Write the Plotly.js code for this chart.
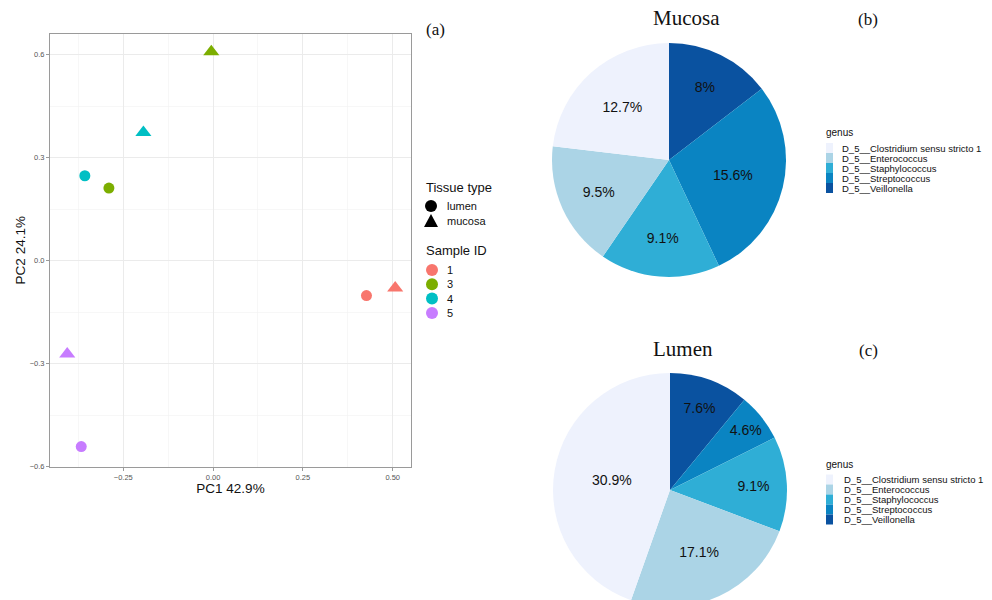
<!DOCTYPE html>
<html>
<head>
<meta charset="utf-8">
<script src="https://cdn.plot.ly/plotly-3.0.1.min.js"></script>
<style>
  html, body { margin: 0; padding: 0; overflow: hidden; background: #fff; }
  #chart { width: 992px; height: 620px; }
</style>
</head>
<body>
<div id="chart"></div>
<script>
// PCA scores per tissue type, one value per sample (order follows sampleIds)
const sampleIds = ['1', '3', '4', '5'];
const sampleColors = ['#F8766D', '#7CAE00', '#00BFC4', '#C77CFF'];
const tissueTypes = ['lumen', 'mucosa'];
const tissueSymbols = ['circle', 'triangle-up'];
const pc1Lumen = [0.427, -0.290, -0.357, -0.367];
const pc2Lumen = [-0.102, 0.211, 0.247, -0.542];
const pc1Mucosa = [0.507, -0.005, -0.194, -0.406];
const pc2Mucosa = [-0.080, 0.608, 0.373, -0.272];
const xTicks = [-0.25, 0, 0.25, 0.5];
const yTicks = [-0.6, -0.3, 0, 0.3, 0.6];

// Relative abundance of the top genera
const genera = ['D_5__Clostridium sensu stricto 1', 'D_5__Enterococcus',
                'D_5__Staphylococcus', 'D_5__Streptococcus', 'D_5__Veillonella'];
const genusColors = ['#EEF2FD', '#ABD4E6', '#2FAED6', '#0A84C2', '#0A52A0'];
const mucosaPct = [12.7, 9.5, 9.1, 15.6, 8];
const lumenPct = [30.9, 17.1, 9.1, 4.6, 7.6];

const W = 992, H = 620;
const fx = p => p / W;
const fy = p => 1 - p / H;
const sans = 'Liberation Sans, Arial, sans-serif';
const serif = 'Liberation Serif, Times New Roman, serif';

const traces = [];
const scores = [[pc1Lumen, pc2Lumen], [pc1Mucosa, pc2Mucosa]];
tissueTypes.forEach((t, i) => {
  traces.push({
    type: 'scatter', mode: 'markers', name: t, showlegend: false,
    x: scores[i][0], y: scores[i][1], text: sampleIds,
    marker: { symbol: tissueSymbols[i], size: i === 0 ? 11 : 14, color: sampleColors, line: { width: 0 } },
    xaxis: 'x', yaxis: 'y'
  });
});

// Slices run clockwise from 12 o'clock starting with the last genus,
// so the first genus ends up on the upper left.
function pieTrace(name, values, cx, cy, r) {
  const rev = a => a.slice().reverse();
  return {
    type: 'pie', name: name, labels: rev(genera), values: rev(values),
    sort: false, direction: 'clockwise', rotation: 0,
    marker: { colors: rev(genusColors), line: { width: 0 } },
    texttemplate: '%{value}%', textposition: 'inside',
    insidetextorientation: 'horizontal',
    textfont: { family: sans, size: 14, color: '#111' },
    hoverinfo: 'label+value', showlegend: false,
    domain: { x: [fx(cx - r), fx(cx + r)], y: [fy(cy + r), fy(cy - r)] }
  };
}
traces.push(pieTrace('Mucosa', mucosaPct, 669, 160, 117));
traces.push(pieTrace('Lumen', lumenPct, 670, 490, 117));

const annotations = [];
const shapes = [];
function label(text, x, y, size, opts) {
  annotations.push(Object.assign({
    text: text, x: fx(x), y: fy(y), xref: 'paper', yref: 'paper',
    xanchor: 'left', yanchor: 'middle', showarrow: false,
    font: { family: sans, size: size, color: '#111' }
  }, opts || {}));
}

// Panel titles and letters
label('Mucosa', 686, 18, 21, { xanchor: 'center', font: { family: serif, size: 21, color: '#111' } });
label('Lumen', 683, 349, 21, { xanchor: 'center', font: { family: serif, size: 21, color: '#111' } });
label('(a)', 435, 30, 17, { xanchor: 'center', font: { family: serif, size: 17, color: '#111' } });
label('(b)', 868, 20, 17, { xanchor: 'center', font: { family: serif, size: 17, color: '#111' } });
label('(c)', 868, 350, 17, { xanchor: 'center', font: { family: serif, size: 17, color: '#111' } });

// Tissue type / Sample ID key for the PCA panel
label('Tissue type', 424, 187, 13);
tissueTypes.forEach((t, i) => {
  const y = 206 + i * 15, x = 431, s = 6;
  if (tissueSymbols[i] === 'circle') {
    shapes.push({ type: 'circle', xref: 'paper', yref: 'paper',
      x0: fx(x - s), x1: fx(x + s), y0: fy(y + s), y1: fy(y - s),
      fillcolor: '#000', line: { width: 0 } });
  } else {
    shapes.push({ type: 'path', xref: 'paper', yref: 'paper',
      path: `M ${fx(x - 7)} ${fy(y + 6)} L ${fx(x + 7)} ${fy(y + 6)} L ${fx(x)} ${fy(y - 7)} Z`,
      fillcolor: '#000', line: { width: 0 } });
  }
  label(t, 445, y, 11);
});
label('Sample ID', 424, 251, 13);
sampleIds.forEach((id, i) => {
  const y = 270 + i * 14.3, x = 432, s = 6;
  shapes.push({ type: 'circle', xref: 'paper', yref: 'paper',
    x0: fx(x - s), x1: fx(x + s), y0: fy(y + s), y1: fy(y - s),
    fillcolor: sampleColors[i], line: { width: 0 } });
  label(id, 445, y, 11);
});

// Genus keys next to each pie
function genusKey(yTitle, yFirst, xText) {
  label('genus', 824, yTitle, 10);
  genera.forEach((g, i) => {
    const y = yFirst + i * 10;
    shapes.push({ type: 'rect', xref: 'paper', yref: 'paper',
      x0: fx(826), x1: fx(833), y0: fy(y + 5), y1: fy(y - 5),
      fillcolor: genusColors[i], line: { width: 0 } });
    label(g, xText, y, 9.5);
  });
}
genusKey(133, 148, 840);
genusKey(464, 479.5, 842);

const axisCommon = {
  showline: true, mirror: true, linecolor: '#9a9a9a', linewidth: 1,
  ticks: 'outside', ticklen: 3, tickcolor: '#9a9a9a', tickwidth: 1,
  tickfont: { family: sans, size: 7.5, color: '#555' },
  showgrid: true, gridcolor: '#ebebeb', gridwidth: 1,
  zeroline: false, automargin: false, fixedrange: true
};

const layout = {
  width: W, height: H,
  margin: { l: 0, r: 0, t: 0, b: 0 },
  paper_bgcolor: '#fff', plot_bgcolor: '#fff',
  showlegend: false,
  uniformtext: { minsize: 14, mode: 'show' },
  xaxis: Object.assign({}, axisCommon, {
    domain: [fx(50), fx(411)], range: [-0.454, 0.551],
    tickmode: 'array', tickvals: xTicks, tickformat: '.2f',
    minor: { dtick: 0.125, tick0: 0, showgrid: true, gridcolor: '#f2f2f2', gridwidth: 0.6, ticks: '' },
    title: { text: 'PC1 42.9%', standoff: 0, font: { family: sans, size: 13.5, color: '#111' } },
    anchor: 'y'
  }),
  yaxis: Object.assign({}, axisCommon, {
    domain: [fy(466.5), fy(34)], range: [-0.6, 0.66],
    tickmode: 'array', tickvals: yTicks, tickformat: '.1f',
    minor: { dtick: 0.15, tick0: 0, showgrid: true, gridcolor: '#f2f2f2', gridwidth: 0.6, ticks: '' },
    title: { text: 'PC2 24.1%', standoff: 0, font: { family: sans, size: 13.5, color: '#111' } },
    anchor: 'x'
  }),
  annotations: annotations,
  shapes: shapes
};

Plotly.newPlot('chart', traces, layout, { displayModeBar: false, staticPlot: true });
</script>
</body>
</html>
